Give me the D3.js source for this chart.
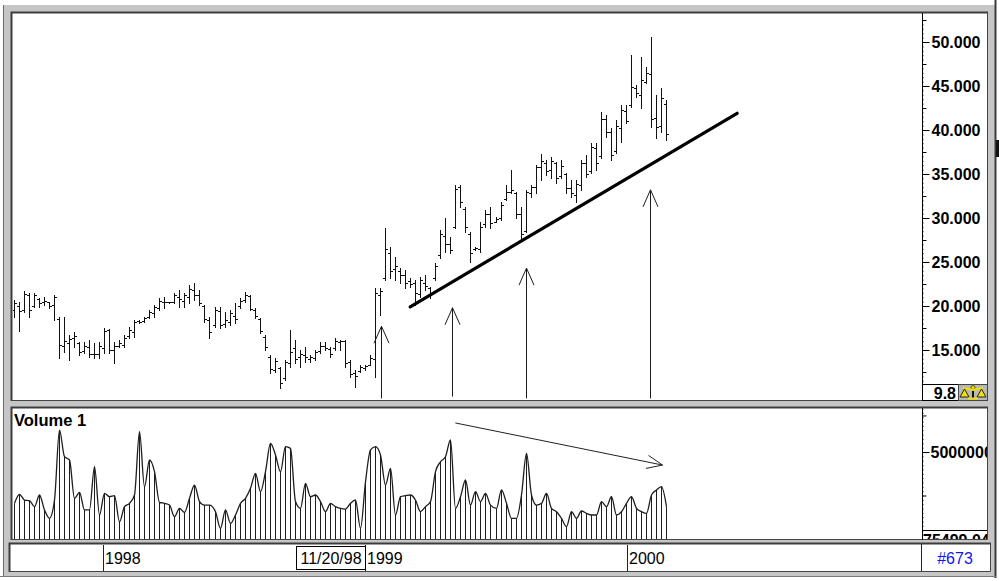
<!DOCTYPE html>
<html><head><meta charset="utf-8">
<script src="https://cdn.jsdelivr.net/npm/d3@7/dist/d3.min.js"></script>
<style>body{margin:0;background:#fff;}svg{display:block;font-family:"Liberation Sans",Arial,sans-serif;}</style>
</head><body><svg id="c" width="999" height="581"></svg>
<script>
// ---- data (weekly bars, Fridays) ----
const startDate = "1997-08-29";
const high = [20.7,20.5,21.7,21.5,21.5,20.9,21.0,20.5,21.3,18.8,
18.8,16.7,17.0,15.9,15.9,16.1,15.8,15.9,17.5,17.4,
15.9,16.1,16.7,17.6,18.4,18.4,18.8,19.5,20.1,20.9,
21.0,20.5,21.5,21.8,21.5,22.4,22.6,21.8,20.1,18.8,
19.9,19.9,19.3,19.5,20.3,20.9,21.6,21.3,19.8,18.6,
16.7,14.4,14.1,13.1,13.9,17.3,16.1,15.0,15.3,14.4,
15.0,15.9,15.9,15.3,16.4,16.1,16.1,13.9,12.7,13.3,
13.3,14.4,22.0,22.0,28.9,26.7,25.6,24.3,24.1,23.2,
23.0,23.3,23.5,22.2,24.9,28.6,30.0,27.8,33.8,33.8,
31.3,28.4,26.7,29.5,30.9,31.3,30.1,31.8,33.8,35.5,
33.0,31.3,33.2,33.8,36.0,37.3,36.6,36.9,36.4,36.6,
35.1,34.3,34.3,36.6,37.2,38.5,38.5,42.0,41.7,40.2,
41.1,42.8,42.8,48.5,45.1,48.3,47.2,50.6,44.0,44.8,
43.4];
const low = [18.8,17.2,19.3,18.8,19.9,19.9,20.1,19.8,18.4,14.1,
14.8,13.9,15.3,14.4,14.7,14.2,14.1,14.1,14.7,14.7,
13.5,15.3,15.3,16.4,16.5,18.1,18.2,18.6,18.8,19.5,
19.8,20.3,20.3,19.9,19.9,20.3,20.7,20.1,18.2,16.4,
17.6,17.5,17.6,17.8,18.1,19.8,20.5,19.5,18.6,16.9,
15.0,12.4,12.5,10.7,11.6,13.1,13.5,13.1,13.6,13.6,
13.9,14.7,15.0,14.2,15.0,15.0,13.1,11.9,10.8,12.5,
12.7,13.3,11.9,19.0,23.0,23.2,23.0,22.6,22.0,22.2,
20.1,21.0,21.8,20.9,23.0,25.5,26.1,26.0,28.9,31.3,
28.4,25.0,26.4,26.1,29.0,28.9,29.5,29.8,32.0,32.8,
30.0,27.5,28.4,32.4,32.8,34.3,34.9,34.5,34.0,34.5,
32.8,32.4,31.8,33.2,34.7,35.1,35.5,36.8,39.2,36.6,
37.4,38.6,40.8,42.6,43.8,42.5,45.3,40.3,39.1,39.8,
38.9];
const open = [19.5,20.0,19.6,21.3,20.0,20.8,20.4,20.4,20.1,18.5,
15.5,15.8,16.4,15.8,14.9,15.3,14.6,14.5,15.2,17.3,
15.0,15.4,15.6,16.6,17.0,18.3,18.3,18.7,19.2,19.8,
20.4,20.4,20.4,21.0,20.6,21.0,21.8,21.2,20.0,18.4,
17.8,19.4,17.9,18.2,18.9,20.0,20.7,21.1,19.6,18.5,
16.5,14.2,12.7,13.0,11.8,13.5,15.2,14.2,14.4,14.0,
14.1,14.9,15.4,15.1,15.2,15.9,16.0,13.6,12.4,12.6,
12.9,13.3,14.0,21.2,23.2,26.0,24.2,24.0,23.5,22.8,
22.6,21.4,22.6,22.0,23.2,25.8,28.0,27.0,29.0,33.5,
31.0,28.2,26.5,26.5,29.3,30.5,29.6,30.0,32.2,33.0,
32.8,30.4,28.5,32.8,33.5,35.8,36.3,35.4,36.3,34.8,
35.0,33.4,32.6,33.8,36.2,35.3,38.0,37.0,41.2,39.8,
37.6,40.2,42.2,42.8,44.8,44.0,45.5,46.4,41.4,40.5,
43.0];
const close = [20.3,19.4,21.4,19.6,21.2,20.3,20.6,20.0,21.0,15.6,
16.0,16.2,16.6,14.8,15.5,14.6,14.5,15.5,17.2,15.0,
15.4,15.8,16.4,17.3,18.2,18.2,18.6,19.3,19.9,20.6,
20.5,20.4,21.2,20.8,21.3,21.9,21.2,20.3,18.5,17.0,
19.5,17.8,18.4,19.2,18.5,20.6,21.3,19.7,18.9,17.2,
15.3,12.8,13.8,11.3,13.6,14.8,14.0,14.6,14.2,14.2,
14.8,15.5,15.2,14.5,16.0,16.0,13.5,12.3,12.0,13.1,
13.2,14.1,21.5,21.7,26.5,24.0,24.6,23.5,22.6,22.5,
21.5,22.9,22.3,21.4,24.5,28.2,27.0,26.4,33.3,31.8,
29.0,26.0,26.6,29.0,30.5,29.4,29.9,31.5,33.0,33.2,
30.5,28.2,32.9,33.5,35.8,36.5,35.3,36.5,34.6,35.9,
33.4,32.8,33.9,36.3,35.0,38.1,36.2,41.3,39.8,37.2,
40.4,42.3,41.0,44.9,44.2,45.7,46.5,41.2,40.3,43.6,
39.5];
const volumeM = [2.05,2.57,2.24,2.20,1.86,2.53,1.67,1.19,2.24,6.26,
4.73,4.54,2.34,2.68,1.67,1.67,4.16,1.38,2.62,2.43,
2.49,0.99,1.86,2.05,2.53,6.17,3.00,4.54,3.87,2.11,
2.05,1.95,1.28,1.76,1.53,2.34,3.10,2.15,1.95,1.95,
1.57,0.61,1.67,0.90,1.38,2.05,2.34,2.91,3.77,2.72,
3.87,5.50,4.83,3.87,5.31,5.21,2.15,1.76,3.20,2.43,
2.53,2.15,1.57,2.05,1.86,1.76,1.72,2.05,2.24,0.61,
3.29,5.12,5.31,4.83,3.10,4.06,1.38,2.43,2.49,2.53,
2.24,1.57,1.86,2.15,3.87,4.44,4.73,5.69,1.76,2.43,
3.39,1.95,2.72,2.15,2.62,1.95,1.76,2.82,2.05,1.19,
1.19,2.53,4.92,2.53,1.95,2.05,2.62,1.76,1.57,1.19,
0.71,1.57,1.19,1.61,1.47,1.38,1.38,2.15,1.86,2.43,
1.38,1.57,2.05,2.43,1.76,1.57,1.47,2.53,2.82,3.01,
1.86];
const priceTicks = [15,20,25,30,35,40,45,50];
const volumeTicks = [5000000];
const yearTicks = ["1998-01-01","1999-01-01","2000-01-01"];
const cursorDate = "1998-11-20";
const priceMinLabel = "9.8";
const volumeMinLabel = "75499.04";
const windowLabel = "#673";
const volumeTitle = "Volume 1";
const trendLine = [{date:"1999-03-05",price:19.9},{date:"2000-06-03",price:41.9}];
const priceArrows = [
  {date:"1999-01-23",from:9.5,to:17.7},
  {date:"1999-05-02",from:9.7,to:19.8},
  {date:"1999-08-13",from:9.5,to:24.3},
  {date:"2000-02-03",from:9.5,to:33.2}];
const volumeArrow = [{date:"1999-05-07",v:6.67e6},{date:"2000-02-20",v:4.25e6}];

// ---- setup ----
const parse = d3.timeParse("%Y-%m-%d");
const dates = high.map((_, i) => d3.timeDay.offset(parse(startDate), 7 * i));
const svg = d3.select("#c");
const x = d3.scaleTime().domain([parse("1998-01-01"), parse("2000-01-01")]).range([103.4, 626.7]);
const yP = d3.scaleLinear().domain([15, 50]).range([350, 42]);
const yV = d3.scaleLinear().domain([0, 5e6]).range([539, 452]);
const px = d => Math.round(x(d)) + 0.5;
const FS = 16;

// ---- frame ----
svg.append("rect").attr("width",999).attr("height",581).attr("fill","#fff");
svg.append("rect").attr("x",3).attr("y",5).attr("width",992).attr("height",572).attr("fill","#c6c6c6");
svg.append("line").attr("x1",3.5).attr("x2",3.5).attr("y1",5).attr("y2",577).attr("stroke","#6a6a6a");
svg.append("line").attr("x1",995.5).attr("x2",995.5).attr("y1",0).attr("y2",578).attr("stroke","#3a3a3a").attr("stroke-width",2);
svg.append("rect").attr("x",996).attr("y",140).attr("width",3).attr("height",17).attr("fill","#111");
svg.append("line").attr("x1",0).attr("x2",996).attr("y1",576.5).attr("y2",576.5).attr("stroke","#7a7a7a");

function panel(x0, y0, w, h) {
  svg.append("rect").attr("x",x0).attr("y",y0).attr("width",w).attr("height",h).attr("fill","#fff");
  svg.append("path").attr("d",`M${x0+0.5},${y0+h}V${y0+0.5}H${x0+w}`).attr("fill","none").attr("stroke","#3c3c3c").attr("stroke-width",2);
  svg.append("path").attr("d",`M${x0+w-0.5},${y0}V${y0+h-0.5}H${x0}`).attr("fill","none").attr("stroke","#444").attr("stroke-width",1);
}
panel(11, 12, 977, 389);
panel(11, 407, 977, 133);
panel(9, 543, 982, 29);

[[13,401],[408,540]].forEach(([a,b]) => svg.append("line").attr("x1",922.5).attr("x2",922.5).attr("y1",a).attr("y2",b).attr("stroke","#000"));
svg.append("line").attr("x1",921.5).attr("x2",921.5).attr("y1",544).attr("y2",571).attr("stroke","#222");

// ---- clip paths ----
const defs = svg.append("defs");
defs.append("clipPath").attr("id","cp").append("rect").attr("x",13).attr("y",14).attr("width",909).attr("height",386);
defs.append("clipPath").attr("id","cv").append("rect").attr("x",13).attr("y",409).attr("width",909).attr("height",130);
defs.append("clipPath").attr("id","ca").append("rect").attr("x",923).attr("y",14).attr("width",64).attr("height",386);
defs.append("clipPath").attr("id","cva").append("rect").attr("x",923).attr("y",409).attr("width",64).attr("height",130);

// ---- price bars ----
const gp = svg.append("g").attr("clip-path","url(#cp)");
const bars = gp.selectAll("g.bar").data(dates).join("g").attr("class","bar").attr("stroke","#111").attr("stroke-width",1);
bars.append("line").attr("x1",(d)=>px(d)).attr("x2",(d)=>px(d))
  .attr("y1",(d,i)=>Math.round(yP(high[i]))).attr("y2",(d,i)=>Math.round(yP(low[i]))+1);
bars.append("line").attr("x1",(d)=>px(d)-2.5).attr("x2",(d)=>px(d))
  .attr("y1",(d,i)=>Math.round(yP(open[i]))+0.5).attr("y2",(d,i)=>Math.round(yP(open[i]))+0.5);
bars.append("line").attr("x1",(d)=>px(d)).attr("x2",(d)=>px(d)+2.5)
  .attr("y1",(d,i)=>Math.round(yP(close[i]))+0.5).attr("y2",(d,i)=>Math.round(yP(close[i]))+0.5);

gp.append("line").attr("x1",x(parse(trendLine[0].date))).attr("y1",yP(trendLine[0].price))
  .attr("x2",x(parse(trendLine[1].date))).attr("y2",yP(trendLine[1].price))
  .attr("stroke","#000").attr("stroke-width",3.2).attr("stroke-linecap","round");

priceArrows.forEach(a => {
  const ax = px(parse(a.date)), y0 = yP(a.from), y1 = yP(a.to);
  gp.append("line").attr("x1",ax).attr("x2",ax).attr("y1",y0).attr("y2",y1).attr("stroke","#1c1c1c");
  gp.append("path").attr("d",`M${ax-7.5},${y1+17}L${ax},${y1}L${ax+7.5},${y1+17}`).attr("fill","none").attr("stroke","#1c1c1c");
});

// ---- price axis ----
const ga = svg.append("g").attr("clip-path","url(#ca)");
ga.append("g").attr("transform","translate(922.5,0)")
  .call(d3.axisRight(yP).tickValues(d3.range(10, 53, 0.5)).tickSize(1).tickFormat(""))
  .call(g=>g.select(".domain").remove());
ga.append("g").attr("transform","translate(922.5,0)")
  .call(d3.axisRight(yP).tickValues(d3.range(12.5, 53, 5)).tickSize(4).tickFormat(""))
  .call(g=>g.select(".domain").remove());
ga.append("g").attr("transform","translate(922.5,0)")
  .call(d3.axisRight(yP).tickValues(priceTicks).tickSize(7).tickPadding(2).tickFormat(d3.format(".3f")))
  .call(g=>g.select(".domain").remove())
  .call(g=>g.selectAll("text").attr("font-size",FS).attr("font-weight","bold").attr("fill","#000").attr("font-family","'Liberation Sans',Arial,sans-serif"));
ga.selectAll("line").attr("stroke","#000");

svg.append("rect").attr("x",922.5).attr("y",384.5).attr("width",36).attr("height",16).attr("fill","#fff").attr("stroke","#000");
svg.append("text").attr("x",956).attr("y",398.5).attr("text-anchor","end").attr("font-size",FS).attr("font-weight","bold").text(priceMinLabel);
// scales icon
const ic = svg.append("g").attr("transform","translate(958,384)");
ic.append("rect").attr("x",0.5).attr("y",0.5).attr("width",29).attr("height",16).attr("fill","#b8b8b8").attr("stroke","#444");
ic.append("line").attr("x1",15).attr("x2",15).attr("y1",2).attr("y2",14).attr("stroke","#111").attr("stroke-width",2);
ic.append("circle").attr("cx",15).attr("cy",3.5).attr("r",2).attr("fill","#f0e000").attr("stroke","#111").attr("stroke-width",0.6);
ic.append("path").attr("d","M5,4L15,6L25,4").attr("fill","none").attr("stroke","#f0e000").attr("stroke-width",2);
ic.append("path").attr("d","M2,13L6.5,5L11,13Z").attr("fill","#f2e200").attr("stroke","#111").attr("stroke-width",0.9);
ic.append("path").attr("d","M19,13L23.5,5L28,13Z").attr("fill","#f2e200").attr("stroke","#111").attr("stroke-width",0.9);
ic.append("path").attr("d","M10,14.5H20").attr("stroke","#f0e000").attr("stroke-width",2);

// ---- volume ----
const gv = svg.append("g").attr("clip-path","url(#cv)");
gv.selectAll("line.v").data(dates).join("line").attr("class","v")
  .attr("x1",d=>px(d)).attr("x2",d=>px(d)).attr("y1",yV(0)).attr("y2",(d,i)=>yV(volumeM[i]*1e6))
  .attr("stroke","#1e1e1e");
gv.append("path").datum(dates)
  .attr("d", d3.line().x(d=>px(d)).y((d,i)=>yV(volumeM[i]*1e6)).curve(d3.curveMonotoneX))
  .attr("fill","none").attr("stroke","#1e1e1e").attr("stroke-width",1.3);
{
  const x1 = x(parse(volumeArrow[0].date)), y1 = yV(volumeArrow[0].v);
  const x2 = x(parse(volumeArrow[1].date)), y2 = yV(volumeArrow[1].v);
  gv.append("line").attr("x1",x1).attr("y1",y1).attr("x2",x2).attr("y2",y2).attr("stroke","#222");
  const ang = Math.atan2(y2-y1, x2-x1), L = 17, s = 0.4;
  gv.append("path").attr("d",`M${x2-L*Math.cos(ang-s)},${y2-L*Math.sin(ang-s)}L${x2},${y2}L${x2-L*Math.cos(ang+s)},${y2-L*Math.sin(ang+s)}`)
    .attr("fill","none").attr("stroke","#222");
}
svg.append("text").attr("x",14).attr("y",425.5).attr("font-size",16.5).attr("font-weight","bold").text(volumeTitle);

const gva = svg.append("g").attr("clip-path","url(#cva)");
gva.append("g").attr("transform","translate(922.5,0)")
  .call(d3.axisRight(yV).tickValues(d3.range(0, 8e6, 2.5e5)).tickSize(1).tickFormat(""))
  .call(g=>g.select(".domain").remove());
gva.append("g").attr("transform","translate(922.5,0)")
  .call(d3.axisRight(yV).tickValues([2.5e6, 7.1e6]).tickSize(4).tickFormat(""))
  .call(g=>g.select(".domain").remove());
gva.append("g").attr("transform","translate(922.5,0)")
  .call(d3.axisRight(yV).tickValues(volumeTicks).tickSize(7).tickPadding(1).tickFormat(d3.format("d")))
  .call(g=>g.select(".domain").remove())
  .call(g=>g.selectAll("text").attr("font-size",FS).attr("font-weight","bold").attr("fill","#000").attr("font-family","'Liberation Sans',Arial,sans-serif"));
gva.selectAll("line").attr("stroke","#000");
gva.append("line").attr("x1",922).attr("x2",988).attr("y1",530.5).attr("y2",530.5).attr("stroke","#000");
gva.append("text").attr("x",923).attr("y",545.5).attr("font-size",FS).attr("font-weight","bold").text(volumeMinLabel);

// ---- date bar ----
const gd = svg.append("g");
yearTicks.forEach(t => {
  const xx = px(parse(t));
  gd.append("line").attr("x1",xx).attr("x2",xx).attr("y1",545).attr("y2",571).attr("stroke","#222");
  gd.append("text").attr("x",xx+1.5).attr("y",563.5).attr("font-size",FS).text(parse(t).getFullYear());
});
{
  const cx = x(parse(cursorDate));
  const bx = Math.round(cx-39)+0.5;
  gd.append("rect").attr("x",bx).attr("y",546.5).attr("width",69).attr("height",23).attr("fill","#fff").attr("stroke","#000");
  gd.append("text").attr("x",bx+34.5).attr("y",563.5).attr("text-anchor","middle").attr("font-size",FS).text(d3.timeFormat("%m/%d/%y")(parse(cursorDate)));
}
gd.append("text").attr("x",955).attr("y",563.5).attr("text-anchor","middle").attr("font-size",FS).attr("fill","#1414ee").text(windowLabel);
</script></body></html>
